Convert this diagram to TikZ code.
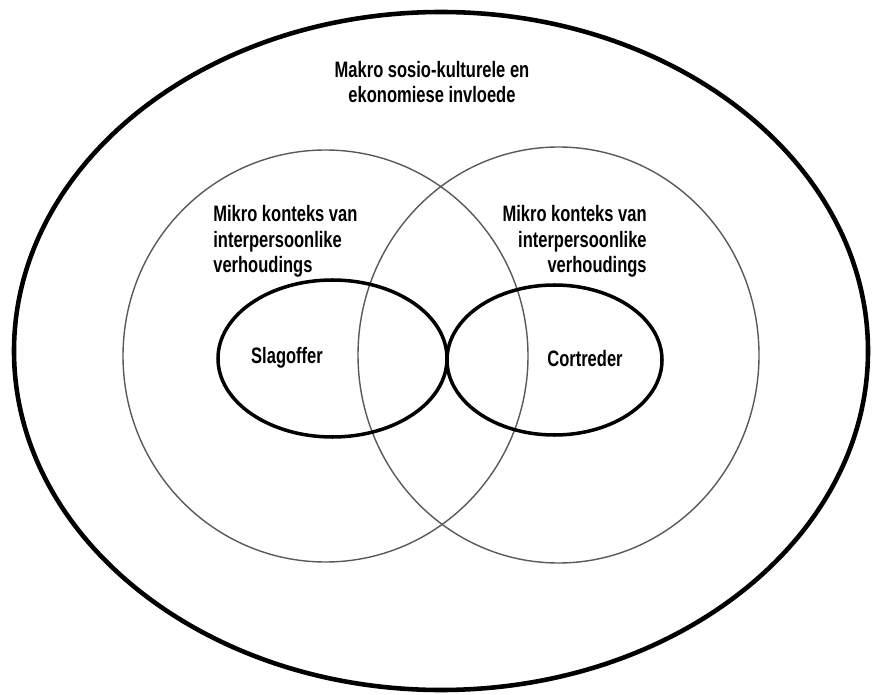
\documentclass[tikz,border=0pt]{standalone}
\usepackage{fontspec}
\setmainfont{Liberation Sans}[FakeStretch=0.74]
\usepackage{xcolor}

\begin{document}
\begin{tikzpicture}[
    buite/.style={line width=2.6pt},
    kring/.style={line width=0.8pt, black!65},
    party/.style={line width=2pt},
    teks/.style={inner sep=0pt, font=\fontsize{12.7}{14.5}\selectfont\bfseries}
  ]
  \useasboundingbox (0,0) rectangle (17.44,13.88);

  \draw[buite] (8.82,6.86) ellipse (8.54 and 6.78);

  \draw[kring] (6.51,6.76) ellipse (4.05 and 4.12);
  \draw[kring] (11.17,6.78) ellipse (4.01 and 4.16);

  \draw[party] (6.65,6.71) ellipse (2.29 and 1.57);
  \draw[party] (11.09,6.68) ellipse (2.15 and 1.5);

  \node[teks, align=center] (makro) at (8.64,12.24) {Makro sosio-kulturele en\\ekonomiese invloede};
  \node[teks, align=left, anchor=west] (mikroL) at (4.26,9.05) {Mikro konteks van\\interpersoonlike\\verhoudings};
  \node[teks, align=right, anchor=east] (mikroR) at (12.94,9.05) {Mikro konteks van\\interpersoonlike\\verhoudings};
  \node[teks] (slagoffer) at (5.74,6.72) {Slagoffer};
  \node[teks] (oortreder) at (11.7,6.7) {Cortreder};
\end{tikzpicture}
\end{document}
